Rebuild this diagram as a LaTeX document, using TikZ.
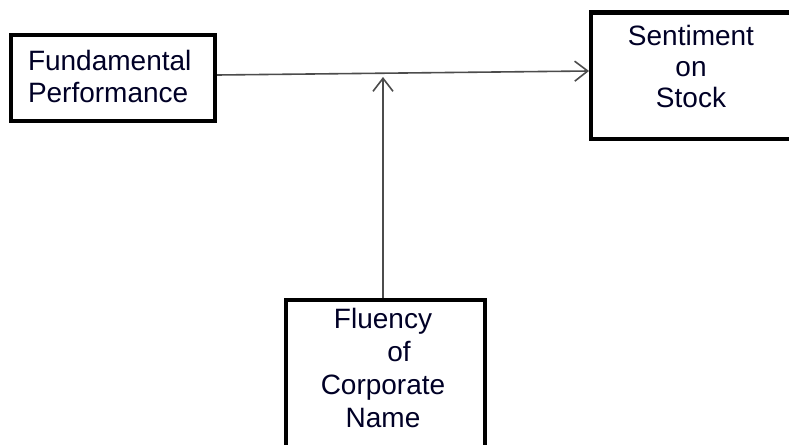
\documentclass[tikz,border=0pt]{standalone}
\usepackage{fontspec}
\setmainfont{Liberation Sans}
\usetikzlibrary{arrows.meta}
\begin{document}
\begin{tikzpicture}[x=1pt,y=-1pt,
  box/.style={draw=black,line width=4.2pt,fill=white,minimum width=0pt,inner sep=0pt},
  lbl/.style={inner sep=0pt,outer sep=0pt,font=\fontsize{28pt}{32pt}\selectfont,text=black!85!blue},
  conn/.style={draw=black!70,line width=1.6pt,-{Straight Barb[length=13pt,width=20pt,line width=1.6pt]}}]
\useasboundingbox[fill=white] (0,0) rectangle (789,444);
\clip (0,0) rectangle (789,444);
% boxes
\node[box,minimum width=204pt,minimum height=86pt,anchor=north west] (fp) at (9,33) {};
\node[box,minimum width=205pt,minimum height=126pt,anchor=north west] (ss) at (589,10.5) {};
\node[box,minimum width=199pt,minimum height=170pt,anchor=north west] (fc) at (284,298) {};
% texts
\node[lbl,align=left,anchor=north west] (fpt) at (28,50) {Fundamental\\Performance};
\node[lbl,align=center,anchor=north,font=\fontsize{28pt}{31pt}\selectfont] (sst) at (691,25) {Sentiment\\on\\Stock};
\node[lbl,align=center,anchor=north,font=\fontsize{28pt}{33pt}\selectfont] (fct) at (383,308) {Fluency\\\hspace*{32pt}of\\Corporate\\Name};
% connectors
\coordinate (j) at (383,77);
\draw[conn] (fp.east |- 0,75) -- (ss.west |- 0,71);
\draw[conn] (fc.north -| j) -- (j);
\end{tikzpicture}
\end{document}
